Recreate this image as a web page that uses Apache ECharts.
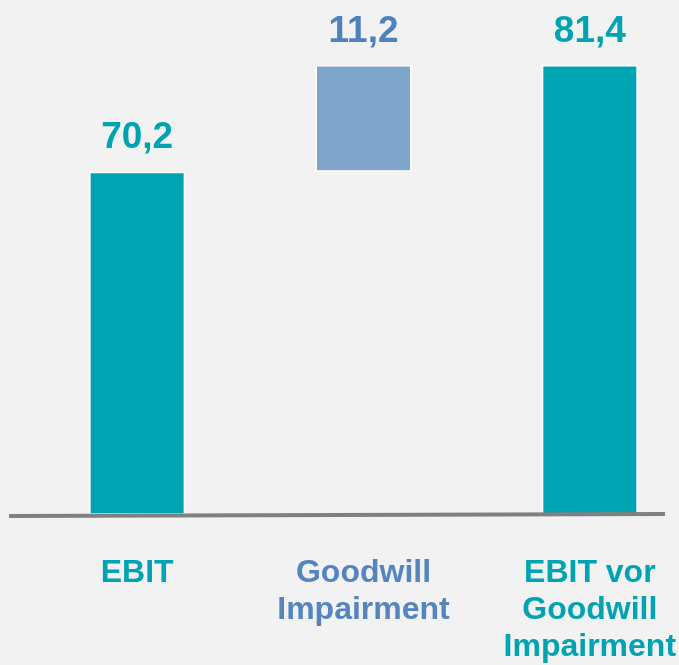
<!DOCTYPE html>
<html>
<head>
<meta charset="utf-8">
<script src="https://cdn.jsdelivr.net/npm/echarts@6/dist/echarts.min.js"></script>
<style>
  html, body { margin: 0; padding: 0; background: #f2f2f2; }
  #main { width: 679px; height: 665px; }
</style>
</head>
<body>
<div id="main"></div>
<script>
// Daten
var categories = ['EBIT', 'Goodwill\nImpairment', 'EBIT vor\nGoodwill\nImpairment'];
var totalValues = [70.2, '-', 81.4];   // Summenbalken
var offsetValues = ['-', 70.2, '-'];   // unsichtbarer Sockel (Wasserfall)
var deltaValues = ['-', 11.2, '-'];    // Veränderung

var teal = '#00a3b2';
var lightBlue = '#7fa6ca';
var blueText = '#4f81bd';
var fontName = 'Liberation Sans, Arial, sans-serif';

function fmt(p) {
    return Number(p.value).toFixed(1).replace('.', ',');
}

function valueLabel(color) {
    return {
        show: true,
        position: 'top',
        distance: 15,
        fontSize: 37,
        fontWeight: 'bold',
        fontFamily: fontName,
        color: color,
        formatter: fmt
    };
}

var myChart = echarts.init(document.getElementById('main'));
myChart.setOption({
    backgroundColor: '#f2f2f2',
    animation: false,
    grid: {
        left: 24,
        right: -24,
        top: 65,
        bottom: 151,
        outerBoundsMode: 'none'
    },
    xAxis: {
        type: 'category',
        data: categories,
        axisLine: { show: false },
        axisTick: { show: false },
        axisLabel: {
            margin: 41,
            interval: 0,
            formatter: function (v, i) {
                return i === 1 ? '{b|' + v.split('\n').join('}\n{b|') + '}'
                               : '{t|' + v.split('\n').join('}\n{t|') + '}';
            },
            rich: {
                t: { color: teal, fontSize: 32, fontWeight: 'bold', fontFamily: fontName, lineHeight: 37 },
                b: { color: '#5585be', fontSize: 32, fontWeight: 'bold', fontFamily: fontName, lineHeight: 37 }
            }
        }
    },
    yAxis: {
        type: 'value',
        min: 34.3,
        max: 81.4,
        show: false,
        splitLine: { show: false }
    },
    series: [
        {
            type: 'bar',
            barWidth: 96,
            barGap: '-100%',
            itemStyle: { color: teal, borderColor: '#ffffff', borderWidth: 1.5 },
            label: valueLabel(teal),
            data: totalValues
        },
        {
            type: 'bar',
            stack: 'w',
            barWidth: 96,
            itemStyle: { color: 'transparent' },
            data: offsetValues,
            silent: true
        },
        {
            type: 'bar',
            stack: 'w',
            barWidth: 96,
            itemStyle: { color: lightBlue, borderColor: '#ffffff', borderWidth: 1.5 },
            label: valueLabel(blueText),
            data: deltaValues
        }
    ],
    graphic: [
        {
            type: 'line',
            shape: { x1: 9, y1: 516, x2: 665, y2: 514 },
            style: { stroke: '#808080', lineWidth: 4 },
            z: 10
        }
    ]
});
</script>
</body>
</html>
